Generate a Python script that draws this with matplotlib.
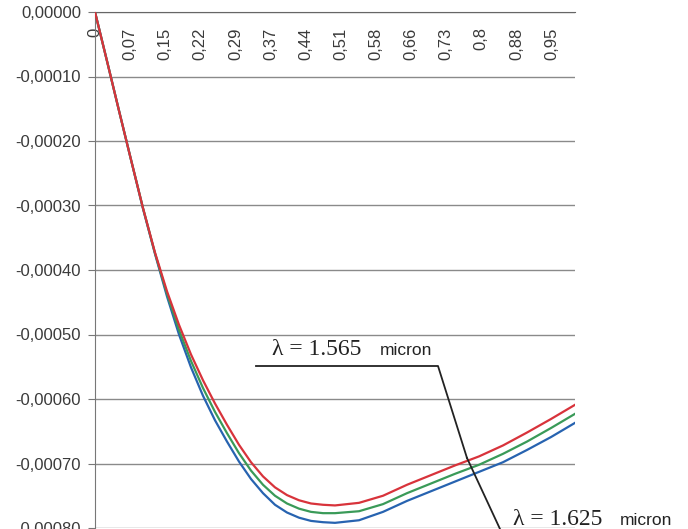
import matplotlib.pyplot as plt
from matplotlib.lines import Line2D

# x positions (fraction of the range) and curve values
x = [0, 0.025, 0.05, 0.075, 0.1, 0.125, 0.15, 0.175, 0.2, 0.225, 0.25,
     0.275, 0.3, 0.325, 0.35, 0.375, 0.4, 0.425, 0.45, 0.475, 0.5,
     0.55, 0.6, 0.65, 0.7, 0.75, 0.8, 0.85, 0.9, 0.95, 1.0]

# values in units of 1e-5
red = [0, -7.6, -15.3, -22.9, -30.4, -37.3, -43.3, -48.5, -53.1, -57.1, -60.7,
       -64.0, -67.1, -69.8, -72.0, -73.7, -74.9, -75.7, -76.2, -76.4, -76.5,
       -76.1, -75.0, -73.3, -71.8, -70.3, -68.9, -67.2, -65.2, -63.1, -60.9]
green = [0, -7.6, -15.3, -22.9, -30.4, -37.4, -43.7, -49.3, -54.1, -58.3, -62.0,
         -65.3, -68.4, -71.1, -73.3, -75.0, -76.2, -77.0, -77.5, -77.7, -77.7,
         -77.4, -76.3, -74.6, -73.1, -71.6, -70.2, -68.5, -66.6, -64.5, -62.3]
blue = [0, -7.6, -15.3, -22.9, -30.5, -37.5, -44.1, -50.0, -55.1, -59.5, -63.3,
        -66.6, -69.7, -72.4, -74.6, -76.4, -77.6, -78.4, -78.9, -79.1, -79.2,
        -78.8, -77.5, -75.8, -74.3, -72.8, -71.3, -69.8, -67.9, -65.9, -63.7]

# category labels shown every third point (step 1/41)
xtick_labels = ["0", "0,07", "0,15", "0,22", "0,29", "0,37", "0,44",
                "0,51", "0,58", "0,66", "0,73", "0,8", "0,88", "0,95"]
xtick_pos = [3 * k / 41 for k in range(len(xtick_labels))]

yticks = [0, -0.0001, -0.0002, -0.0003, -0.0004, -0.0005, -0.0006, -0.0007, -0.0008]

plt.rcParams['font.family'] = ['Liberation Sans', 'DejaVu Sans']

fig = plt.figure(figsize=(6.88, 5.29), dpi=100)
ax = fig.add_axes([95 / 688, 1 / 529, 480 / 688, 516 / 529])

for vals, col in [(red, '#d8333b'), (green, '#3a9a58'), (blue, '#2763b0')][::-1]:
    ax.plot(x, [v * 1e-5 for v in vals], color=col, lw=1.6, zorder=3)

ax.set_xlim(0, 1.0)
ax.set_ylim(-0.0008, 0)

ax.set_yticks(yticks)
ax.set_yticklabels([f"{v:.5f}".replace('.', ',') for v in yticks],
                   fontsize=12, color='#3a3a3a')
ax.yaxis.grid(True, color='#8a8a8a', lw=1)
ax.set_axisbelow(True)

ax.xaxis.set_ticks_position('top')
ax.set_xticks(xtick_pos)
ax.set_xticklabels(xtick_labels, rotation=90, fontsize=12, color='#3a3a3a')
for t in ax.get_xticklabels():
    t.set_va('top')
ax.tick_params(axis='x', length=0, pad=-11)
ax.tick_params(axis='y', length=5, color='#777777', pad=5)

for s in ['right', 'bottom']:
    ax.spines[s].set_visible(False)
ax.spines['left'].set_color('#777777')
ax.spines['top'].set_color('#666666')

# annotations (figure pixel positions)
def fx(px):
    return px / 688

def fy(py):
    return 1 - py / 529

fig.text(fx(272), fy(355), "λ = 1.565", family='Liberation Serif', fontsize=17,
         va='baseline', color='#222222')
fig.text(fx(380), fy(355), "micron", fontsize=12.5, va='baseline', color='#222222')
fig.text(fx(513), fy(525), "λ = 1.625", family='Liberation Serif', fontsize=17,
         va='baseline', color='#222222')
fig.text(fx(620), fy(525), "micron", fontsize=12.5, va='baseline', color='#222222')

fig.add_artist(Line2D([fx(256), fx(438), fx(467)], [fy(366), fy(366), fy(458)],
                      color='#222222', lw=1.3, transform=fig.transFigure))
fig.add_artist(Line2D([fx(467), fx(500)], [fy(458), fy(529)],
                      color='#222222', lw=1.3, transform=fig.transFigure))

fig.savefig('out.png', dpi=100)
